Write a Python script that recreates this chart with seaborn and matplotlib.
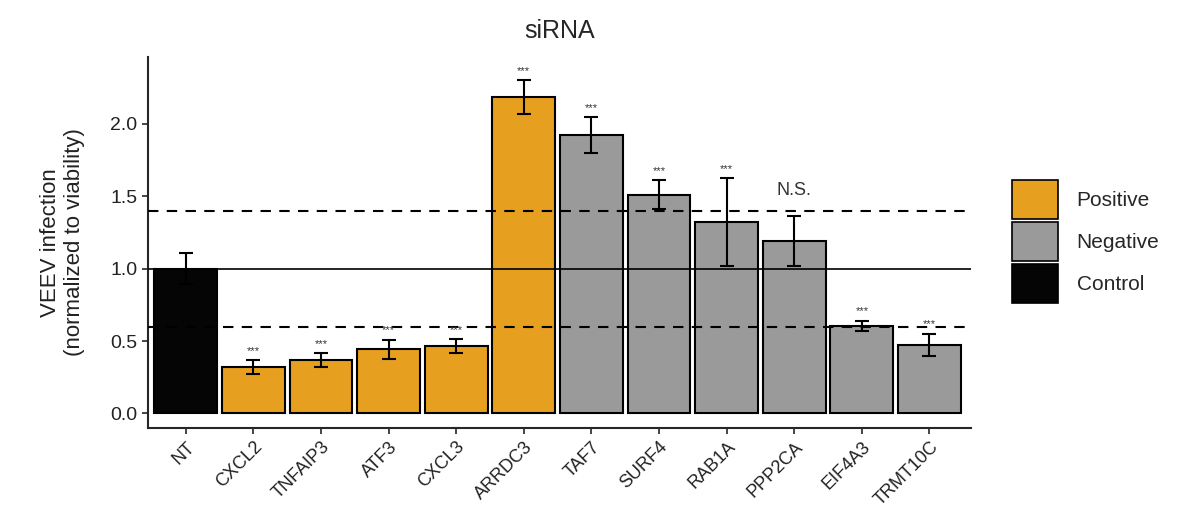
import numpy as np
import pandas as pd
import matplotlib
matplotlib.use("Agg")
import matplotlib.pyplot as plt
import seaborn as sns
from matplotlib.patches import Patch

# Data
genes = ["NT", "CXCL2", "TNFAIP3", "ATF3", "CXCL3", "ARRDC3",
         "TAF7", "SURF4", "RAB1A", "PPP2CA", "EIF4A3", "TRMT10C"]
groups = ["Control", "Positive", "Positive", "Positive", "Positive", "Positive",
          "Negative", "Negative", "Negative", "Negative", "Negative", "Negative"]
values = [1.00, 0.32, 0.367, 0.443, 0.464, 2.185,
          1.92, 1.51, 1.32, 1.19, 0.604, 0.475]
errors = [0.105, 0.048, 0.048, 0.066, 0.048, 0.115,
          0.125, 0.10, 0.305, 0.173, 0.037, 0.075]
signif = ["", "***", "***", "***", "***", "***",
          "***", "***", "***", "N.S.", "***", "***"]
thresholds = [0.6, 1.4]

colors = {"Positive": "#E69F1E", "Negative": "#9A9A9A", "Control": "#050505"}

df = pd.DataFrame({"gene": genes, "group": groups, "value": values})

sns.set_style("ticks")
plt.rcParams["font.family"] = ["Liberation Sans", "DejaVu Sans"]

fig = plt.figure(figsize=(11.78, 5.29), dpi=100)
ax = fig.add_axes([0.1256, 0.191, 0.699, 0.701])

sns.barplot(data=df, x="gene", y="value", hue="group", palette=colors,
            dodge=False, width=0.93, edgecolor="black", linewidth=1.5,
            saturation=1, legend=False, ax=ax)

x = np.arange(len(genes))
ax.errorbar(x, values, yerr=errors, fmt="none", ecolor="black",
            elinewidth=1.5, capsize=5, capthick=1.5, zorder=5)

ax.axhline(1.0, color="black", lw=1.2, zorder=6)
for t in thresholds:
    ax.axhline(t, color="black", lw=1.5, ls=(0, (5, 4)), zorder=6)

for xi, v, e, s in zip(x, values, errors, signif):
    if s == "***":
        ax.text(xi, v + e + 0.03, s, ha="center", va="bottom",
                fontsize=8, color="#333333", zorder=7)
    elif s:
        ax.text(xi, v + e + 0.12, s, ha="center", va="bottom",
                fontsize=13, color="#333333", zorder=7)

ax.set_xlim(-0.56, 11.62)
ax.set_ylim(-0.1, 2.46)
ax.set_yticks([0.0, 0.5, 1.0, 1.5, 2.0])
ax.set_yticklabels(["0.0", "0.5", "1.0", "1.5", "2.0"], fontsize=14, color="#222222")
ax.set_xticks(x)
ax.set_xticklabels(genes, rotation=45, ha="right", rotation_mode="anchor",
                   fontsize=13, color="#222222")
ax.tick_params(axis="both", direction="out", length=4, width=1.2)
ax.set_xlabel("")
ax.set_ylabel("VEEV infection\n(normalized to viability)", fontsize=16,
              color="#222222", labelpad=18)
ax.set_title("siRNA", fontsize=18, pad=14)
for sp in ["left", "bottom"]:
    ax.spines[sp].set_linewidth(1.5)
sns.despine(ax=ax)

handles = [Patch(facecolor=colors[k], edgecolor="black", linewidth=1.2, label=k)
           for k in ["Positive", "Negative", "Control"]]
fig.legend(handles=handles, loc="upper left", bbox_to_anchor=(0.852, 0.675),
           frameon=False, fontsize=15, handlelength=2.2, handleheight=2.5,
           labelspacing=0.15, handletextpad=0.9, borderaxespad=0)

fig.savefig("out.png", dpi=100)
